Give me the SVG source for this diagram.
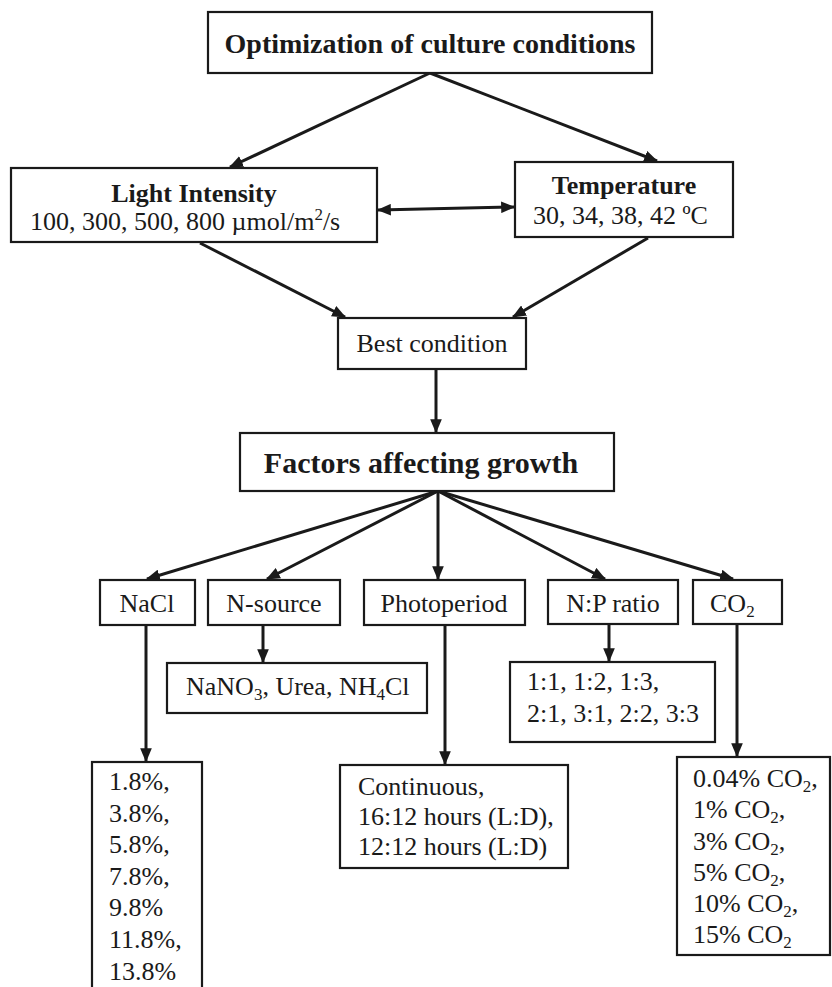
<svg xmlns="http://www.w3.org/2000/svg" width="832" height="987" viewBox="0 0 832 987">
<style>
  .box { fill: #ffffff; stroke: #1a1a1a; stroke-width: 2.2; }
  .t { font-family: "Liberation Serif", "Times New Roman", serif; font-size: 26px; fill: #1a1a1a; }
  .b { font-weight: bold; }
  .h { font-family: "Liberation Serif", "Times New Roman", serif; font-size: 30px; font-weight: bold; fill: #1a1a1a; }
  .h28 { font-size: 28px; }
  .c { text-anchor: middle; }
  .ln { stroke: #1a1a1a; stroke-width: 3; fill: none; marker-end: url(#ah); }
</style>
<defs>
  <marker id="ah" viewBox="0 0 12 10" refX="11" refY="5" markerWidth="14" markerHeight="12" markerUnits="userSpaceOnUse" orient="auto-start-reverse">
    <path d="M0,0 L12,5 L0,10 z" fill="#1a1a1a"/>
  </marker>
</defs>
<rect width="832" height="987" fill="#ffffff"/>

<g id="connectors">
  <line class="ln" x1="430" y1="73" x2="230" y2="167"/>
  <line class="ln" x1="430" y1="73" x2="657" y2="161"/>
  <line class="ln" x1="378" y1="210" x2="514" y2="207" marker-start="url(#ah)"/>
  <line class="ln" x1="200" y1="243" x2="345" y2="317"/>
  <line class="ln" x1="648" y1="238" x2="513" y2="317"/>
  <line class="ln" x1="436" y1="369" x2="436" y2="432"/>
  <line class="ln" x1="438" y1="491" x2="147" y2="579"/>
  <line class="ln" x1="438" y1="491" x2="267" y2="579"/>
  <line class="ln" x1="438" y1="491" x2="438" y2="579"/>
  <line class="ln" x1="438" y1="491" x2="605" y2="579"/>
  <line class="ln" x1="438" y1="491" x2="733" y2="579"/>
  <line class="ln" x1="146" y1="625" x2="146" y2="761"/>
  <line class="ln" x1="263" y1="625" x2="263" y2="662"/>
  <line class="ln" x1="445" y1="625" x2="445" y2="764"/>
  <line class="ln" x1="609" y1="624" x2="609" y2="661"/>
  <line class="ln" x1="737" y1="624" x2="737" y2="756"/>
</g>

<g id="title">
  <rect class="box" x="208" y="12" width="444" height="61"/>
  <text class="h h28 c" x="430" y="53">Optimization of culture conditions</text>
</g>

<g id="light">
  <rect class="box" x="11" y="168" width="366" height="74"/>
  <text class="t b c" x="194" y="202">Light Intensity</text>
  <text class="t" x="30" y="230">100, 300, 500, 800 µmol/m<tspan font-size="17" dy="-10">2</tspan><tspan dy="10">/s</tspan></text>
</g>

<g id="temperature">
  <rect class="box" x="515" y="162" width="218" height="75"/>
  <text class="t b c" x="624" y="194">Temperature</text>
  <text class="t" x="533" y="224">30, 34, 38, 42 ºC</text>
</g>

<g id="best">
  <rect class="box" x="338" y="318" width="188" height="51"/>
  <text class="t c" x="432" y="352">Best condition</text>
</g>

<g id="factors">
  <rect class="box" x="240" y="433" width="374" height="58"/>
  <text class="h c" x="421" y="473">Factors affecting growth</text>
</g>

<g id="nacl">
  <rect class="box" x="100" y="580" width="95" height="45"/>
  <text class="t c" x="147" y="612">NaCl</text>
</g>

<g id="nsource">
  <rect class="box" x="208" y="580" width="132" height="45"/>
  <text class="t c" x="274" y="612">N-source</text>
</g>

<g id="photoperiod">
  <rect class="box" x="364" y="580" width="161" height="45"/>
  <text class="t c" x="444" y="612">Photoperiod</text>
</g>

<g id="npratio">
  <rect class="box" x="548" y="580" width="130" height="44"/>
  <text class="t c" x="613" y="612">N:P ratio</text>
</g>

<g id="co2">
  <rect class="box" x="693" y="580" width="89" height="44"/>
  <text class="t" x="710" y="612">CO<tspan font-size="17" dy="5">2</tspan></text>
</g>

<g id="nsource-list">
  <rect class="box" x="167" y="663" width="260" height="50"/>
  <text class="t" x="186" y="695">NaNO<tspan font-size="17" dy="5">3</tspan><tspan dy="-5">, Urea, NH</tspan><tspan font-size="17" dy="5">4</tspan><tspan dy="-5">Cl</tspan></text>
</g>

<g id="np-list">
  <rect class="box" x="510" y="662" width="205" height="80"/>
  <text class="t" x="527" y="690">1:1, 1:2, 1:3,</text>
  <text class="t" x="527" y="722">2:1, 3:1, 2:2, 3:3</text>
</g>

<g id="nacl-list">
  <rect class="box" x="92" y="762" width="110" height="240"/>
  <text class="t" x="109" y="790">1.8%,</text>
  <text class="t" x="109" y="822">3.8%,</text>
  <text class="t" x="109" y="853">5.8%,</text>
  <text class="t" x="109" y="885">7.8%,</text>
  <text class="t" x="109" y="916">9.8%</text>
  <text class="t" x="109" y="948">11.8%,</text>
  <text class="t" x="109" y="980">13.8%</text>
</g>

<g id="photoperiod-list">
  <rect class="box" x="340" y="765" width="228" height="103"/>
  <text class="t" x="358" y="795">Continuous,</text>
  <text class="t" x="358" y="825">16:12 hours (L:D),</text>
  <text class="t" x="358" y="855">12:12 hours (L:D)</text>
</g>

<g id="co2-list">
  <rect class="box" x="677" y="757" width="153" height="198"/>
  <text class="t" x="693" y="787">0.04% CO<tspan font-size="17" dy="5">2</tspan><tspan dy="-5">,</tspan></text>
  <text class="t" x="693" y="818">1% CO<tspan font-size="17" dy="5">2</tspan><tspan dy="-5">,</tspan></text>
  <text class="t" x="693" y="850">3% CO<tspan font-size="17" dy="5">2</tspan><tspan dy="-5">,</tspan></text>
  <text class="t" x="693" y="881">5% CO<tspan font-size="17" dy="5">2</tspan><tspan dy="-5">,</tspan></text>
  <text class="t" x="693" y="912">10% CO<tspan font-size="17" dy="5">2</tspan><tspan dy="-5">,</tspan></text>
  <text class="t" x="693" y="943">15% CO<tspan font-size="17" dy="5">2</tspan></text>
</g>
</svg>
